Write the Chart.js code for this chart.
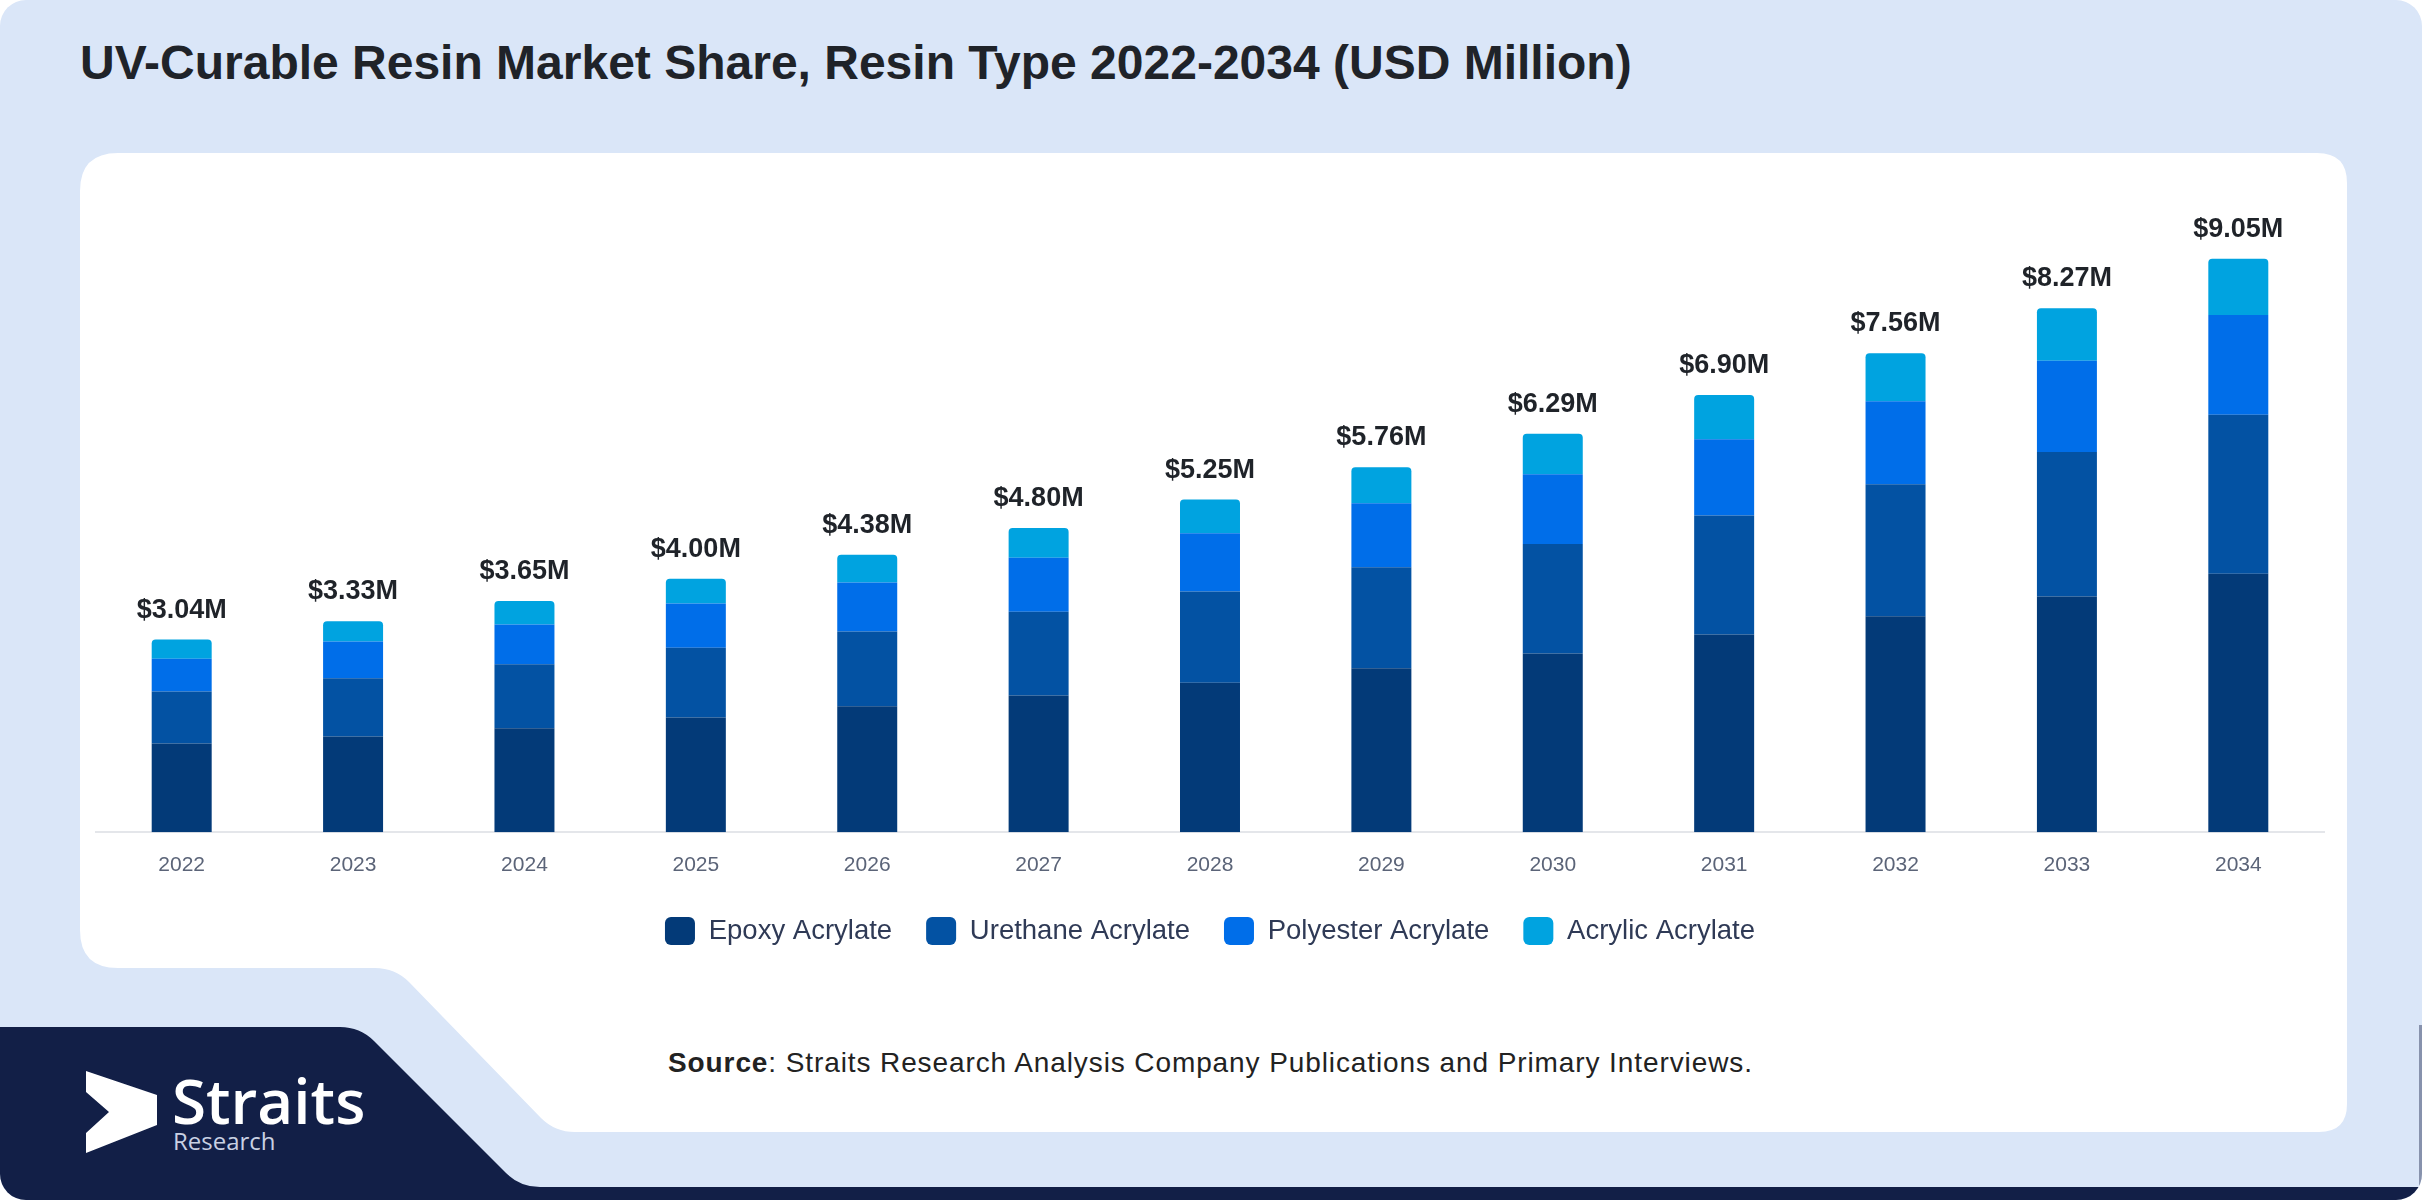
<!DOCTYPE html>
<html>
<head>
<meta charset="utf-8">
<title>UV-Curable Resin Market Share</title>
<script src="https://cdn.jsdelivr.net/npm/chart.js@4.4.1/dist/chart.umd.min.js"></script>
<style>
  html, body { margin: 0; padding: 0; background: #ffffff; }
  #page { position: relative; width: 2422px; height: 1200px; overflow: hidden; }
  #bg { position: absolute; left: 0; top: 0; }
  #chartBox { position: absolute; left: 80px; top: 153px; width: 2265px; height: 802px; }
</style>
</head>
<body>
<div id="page">
  <svg id="bg" width="2422" height="1200" xmlns="http://www.w3.org/2000/svg">
    <defs>
      <clipPath id="frame"><rect x="0" y="0" width="2422" height="1200" rx="26" ry="26"/></clipPath>
    </defs>
    <g clip-path="url(#frame)">
      <rect x="0" y="0" width="2422" height="1200" fill="#dae6f8"/>
      <!-- dark band bottom left -->
      <path d="M0,1027 L340,1027 Q360,1027 374,1041 L506,1173 Q520,1187 540,1187 L2422,1187 L2422,1200 L0,1200 Z" fill="#121f47"/>
      <rect x="2419" y="1025" width="3" height="175" fill="#8792ad"/>
      <!-- white card -->
      <path d="M118,153 L2317,153 Q2347,153 2347,183 L2347,1104 Q2347,1132 2319,1132 L575,1132 Q555,1132 541,1118 L409,982 Q395,968 375,968 L118,968 Q80,968 80,930 L80,191 Q80,153 118,153 Z" fill="#ffffff"/>
      <!-- logo -->
      <polygon points="86,1071 157,1095 157,1125 86,1153 86,1133 109,1112 86,1092" fill="#ffffff"/>
      <text x="172" y="1124" font-family="'Open Sans', 'Noto Sans', sans-serif" font-weight="600" font-size="62" fill="#ffffff">Straits</text>
      <text x="173" y="1150" font-family="'Open Sans', 'Noto Sans', sans-serif" font-size="24" fill="#c9d1e3">Research</text>
    </g>
    <text x="80" y="79" font-family="'Liberation Sans', Arial, sans-serif" font-weight="bold" font-size="48" fill="#1f2329">UV-Curable Resin Market Share, Resin Type 2022-2034 (USD Million)</text>
    <text x="668" y="1072" font-family="'Liberation Sans', Arial, sans-serif" font-size="28" letter-spacing="0.9" fill="#222222"><tspan font-weight="bold">Source</tspan>: Straits Research Analysis Company Publications and Primary Interviews.</text>
  </svg>
  <div id="chartBox"><canvas id="chart" width="2265" height="802"></canvas></div>
</div>

<script>
const years = ['2022', '2023', '2024', '2025', '2026', '2027', '2028', '2029', '2030', '2031', '2032', '2033', '2034'];

// USD million per resin type
const epoxy     = [1.40, 1.51, 1.64, 1.81, 1.99, 2.16, 2.36, 2.59, 2.82, 3.12, 3.41, 3.72, 4.08];
const urethane  = [0.82, 0.92, 1.01, 1.10, 1.18, 1.32, 1.44, 1.59, 1.73, 1.88, 2.08, 2.28, 2.51];
const polyester = [0.52, 0.58, 0.63, 0.70, 0.77, 0.85, 0.92, 1.01, 1.10, 1.20, 1.31, 1.44, 1.57];
const acrylic   = [0.30, 0.32, 0.37, 0.39, 0.44, 0.47, 0.53, 0.57, 0.64, 0.70, 0.76, 0.83, 0.89];

// totals printed above each bar
const totals = [3.04, 3.33, 3.65, 4.00, 4.38, 4.80, 5.25, 5.76, 6.29, 6.90, 7.56, 8.27, 9.05];

const seriesNames = ['Epoxy Acrylate', 'Urethane Acrylate', 'Polyester Acrylate', 'Acrylic Acrylate'];
const seriesColors = ['#033a78', '#0352a3', '#006ee9', '#00a3e0'];
const seriesValues = [epoxy, urethane, polyester, acrylic];

const FONT = '"Liberation Sans", Arial, Helvetica, sans-serif';

// draws "$x.xxM" above each stack
const totalLabels = {
    id: 'totalLabels',
    afterDatasetsDraw(chart) {
        const meta = chart.getDatasetMeta(chart.data.datasets.length - 1);
        const ctx = chart.ctx;
        ctx.save();
        ctx.font = 'bold 27px ' + FONT;
        ctx.fillStyle = '#1f2329';
        ctx.textAlign = 'center';
        ctx.textBaseline = 'alphabetic';
        meta.data.forEach((bar, i) => {
            ctx.fillText('$' + totals[i].toFixed(2) + 'M', bar.x, bar.y - 22);
        });
        ctx.restore();
    }
};

const ctx = document.getElementById('chart').getContext('2d');
new Chart(ctx, {
    type: 'bar',
    data: {
        labels: years,
        datasets: seriesNames.map((name, i) => ({
            label: name,
            data: seriesValues[i],
            backgroundColor: seriesColors[i],
            borderWidth: 0,
            borderRadius: i === seriesNames.length - 1 ? { topLeft: 4, topRight: 4 } : 0,
            categoryPercentage: 1,
            barPercentage: 0.35
        }))
    },
    options: {
        responsive: false,
        animation: false,
        devicePixelRatio: 1,
        layout: { padding: { top: 45.5, left: 16, right: 21, bottom: 0 } },
        scales: {
            x: {
                stacked: true,
                grid: { display: false, drawTicks: false },
                border: { display: true, color: '#e4e6ea', width: 2 },
                ticks: {
                    color: '#5b6478',
                    padding: 20,
                    font: { family: FONT, size: 21 }
                },
                afterFit(scale) { scale.height -= 14.5; }
            },
            y: {
                stacked: true,
                display: false,
                min: 0,
                max: 10
            }
        },
        plugins: {
            legend: {
                position: 'bottom',
                labels: {
                    boxWidth: 30,
                    boxHeight: 28,
                    padding: 34,
                    useBorderRadius: true,
                    borderRadius: 6,
                    color: '#2f3a56',
                    font: { family: FONT, size: 27.5 }
                }
            },
            tooltip: { enabled: false }
        }
    },
    plugins: [totalLabels]
});
</script>
</body>
</html>
